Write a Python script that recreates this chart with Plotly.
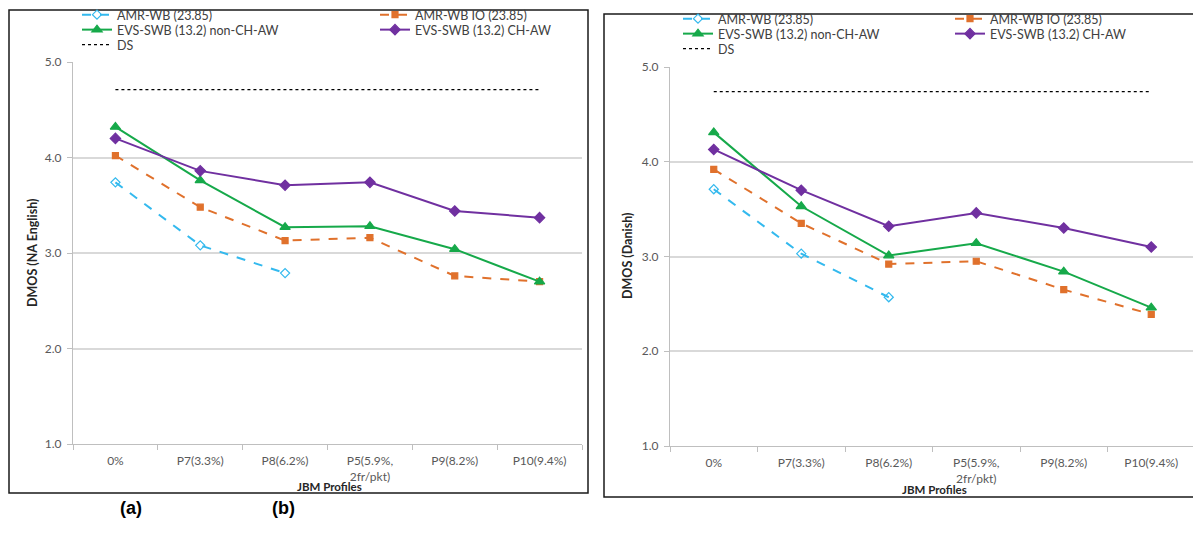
import plotly.graph_objects as go

W, H = 1201, 546
OFF = 8  # page body margin of the generated html

categories = ["0%", "P7(3.3%)", "P8(6.2%)", "P5(5.9%,<br>2fr/pkt)", "P9(8.2%)", "P10(9.4%)"]

# Panel (a): NA English
na_amrwb = [3.74, 3.08, 2.79, None, None, None]
na_amrwb_io = [4.02, 3.48, 3.13, 3.16, 2.76, 2.70]
na_evs_non = [4.32, 3.76, 3.27, 3.28, 3.04, 2.70]
na_evs_chaw = [4.20, 3.86, 3.71, 3.74, 3.44, 3.37]
na_ds = [4.71, 4.71, 4.71, 4.71, 4.71, 4.71]

# Panel (b): Danish
da_amrwb = [3.71, 3.03, 2.57, None, None, None]
da_amrwb_io = [3.92, 3.35, 2.92, 2.95, 2.65, 2.39]
da_evs_non = [4.31, 3.53, 3.01, 3.14, 2.84, 2.46]
da_evs_chaw = [4.13, 3.70, 3.32, 3.46, 3.30, 3.10]
da_ds = [4.74, 4.74, 4.74, 4.74, 4.74, 4.74]

names = ["AMR-WB (23.85)", "AMR-WB IO (23.85)", "EVS-SWB (13.2) non-CH-AW",
         "EVS-SWB (13.2) CH-AW", "DS"]
colors = ["#33B9EE", "#E0712C", "#16A94A", "#7030A0", "#000000"]
dashes = ["dash", "dash", "solid", "solid", "dot"]
symbols = ["diamond-open", "square", "triangle-up", "diamond", None]
msizes = [7, 6, 9, 8, 0]
widths = [2, 2, 2, 2, 1.2]

FONT = "Lato, 'Open Sans', sans-serif"
TXT = "#595959"


def px(x):
    return (x - OFF) / W


def py(y):
    return 1 - (y - OFF) / H


fig = go.Figure()

panels = [
    dict(data=[na_amrwb, na_amrwb_io, na_evs_non, na_evs_chaw, na_ds], xa="x", ya="y",
         leg_x=[77, 375, 77, 375, 77], leg_y=[15, 15, 30, 30, 45]),
    dict(data=[da_amrwb, da_amrwb_io, da_evs_non, da_evs_chaw, da_ds], xa="x2", ya="y2",
         leg_x=[678, 950, 678, 950, 678], leg_y=[19, 19, 34, 34, 49]),
]

legend_layouts = {}
li = 0
for p in panels:
    for k in range(5):
        li += 1
        lname = "legend" if li == 1 else f"legend{li}"
        mode = "lines" if symbols[k] is None else "lines+markers"
        marker = None if symbols[k] is None else dict(
            symbol=symbols[k], size=msizes[k], color=colors[k],
            line=dict(color=colors[k], width=1.2))
        fig.add_trace(go.Scatter(
            x=categories, y=p["data"][k], name=names[k], mode=mode,
            line=dict(color=colors[k], width=widths[k], dash=dashes[k]),
            marker=marker, xaxis=p["xa"], yaxis=p["ya"], legend=lname,
            connectgaps=False, cliponaxis=False))
        legend_layouts[lname] = dict(
            x=px(p["leg_x"][k]), y=py(p["leg_y"][k]), xanchor="left", yanchor="middle",
            bgcolor="rgba(0,0,0,0)", borderwidth=0,
            font=dict(family=FONT, size=12.5, color="#404040"),
            itemwidth=30, tracegroupgap=0)

ax_common = dict(showline=True, linecolor="#BFBFBF", linewidth=1,
                 tickfont=dict(family=FONT, size=12, color=TXT), ticks="outside",
                 tickcolor="#BFBFBF", ticklen=5, zeroline=False, automargin=False)

fig.update_layout(
    width=W, height=H, margin=dict(l=0, r=0, t=0, b=0, autoexpand=False),
    paper_bgcolor="white", plot_bgcolor="white",
    showlegend=True,
    xaxis=dict(domain=[px(73), px(582)], type="category", range=[-0.5, 5.5],
               tickson="boundaries", showgrid=False, anchor="y",
               ticklabelstandoff=6, **ax_common),
    yaxis=dict(domain=[py(444), py(62)], range=[1, 5], dtick=1, tickformat=".1f",
               showgrid=True, gridcolor="#D9D9D9", gridwidth=1.5, anchor="x",
               ticklabelstandoff=3, **ax_common),
    xaxis2=dict(domain=[px(670), px(1195)], type="category", range=[-0.5, 5.5],
                tickson="boundaries", showgrid=False, anchor="y2",
                ticklabelstandoff=6, **ax_common),
    yaxis2=dict(domain=[py(446), py(67)], range=[1, 5], dtick=1, tickformat=".1f",
                showgrid=True, gridcolor="#D9D9D9", gridwidth=1.5, anchor="x2",
                ticklabelstandoff=3, **ax_common),
    **legend_layouts,
)

# panel frames
fig.add_shape(type="rect", xref="paper", yref="paper", x0=px(9), x1=px(588),
              y0=py(493), y1=py(10), line=dict(color="#1a1a1a", width=1.5),
              fillcolor="rgba(0,0,0,0)", layer="below")
fig.add_shape(type="rect", xref="paper", yref="paper", x0=px(604), x1=px(1206),
              y0=py(497), y1=py(14), line=dict(color="#1a1a1a", width=1.5),
              fillcolor="rgba(0,0,0,0)", layer="below")

ann = [
    dict(text="<b>JBM Profiles</b>", x=px(329), y=py(486), size=11.5),
    dict(text="<b>JBM Profiles</b>", x=px(934), y=py(489), size=11.5),
    dict(text="<b>DMOS (NA English)</b>", x=px(33), y=py(253), textangle=-90, size=12.5),
    dict(text="<b>DMOS (Danish)</b>", x=px(628), y=py(256), textangle=-90, size=12.5),
]
for a in ann:
    size = a.pop("size")
    fig.add_annotation(xref="paper", yref="paper", showarrow=False,
                       xanchor="center", yanchor="middle",
                       font=dict(family=FONT, size=size, color="#262626"), **a)

for t, x in [("(a)", 131), ("(b)", 283)]:
    fig.add_annotation(text=f"<b>{t}</b>", xref="paper", yref="paper", x=px(x), y=py(508),
                       showarrow=False, xanchor="center", yanchor="middle",
                       font=dict(family="Liberation Sans, Arial, sans-serif", size=18,
                                 color="black"))

fig.write_html("out.html")
